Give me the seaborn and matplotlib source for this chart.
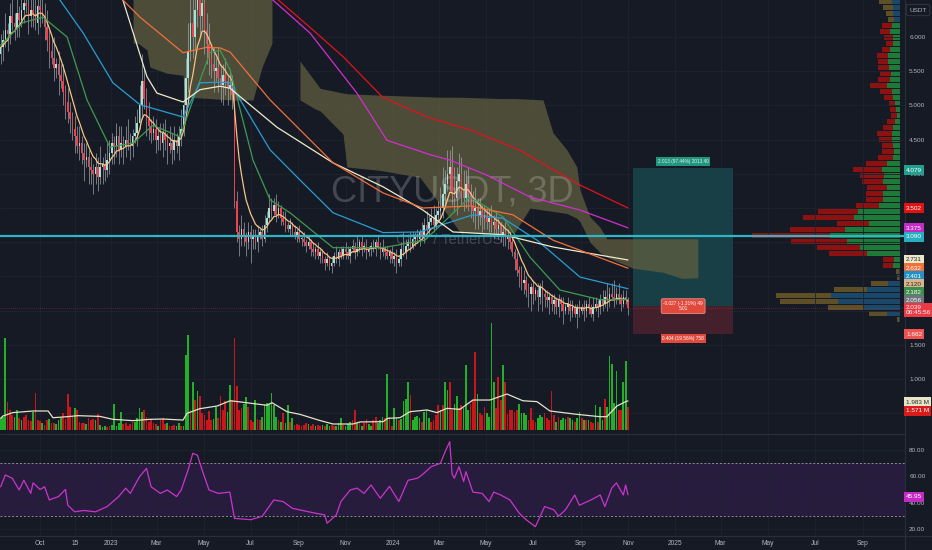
import numpy as np
import pandas as pd
import matplotlib
matplotlib.use("Agg")
import matplotlib.pyplot as plt
from matplotlib.lines import Line2D
import seaborn as sns

# ---------------------------------------------------------------- data
START = "2022-08-11"          # first 3D candle
OPEN0 = 5.75
CLOSE = [
 5.85,5.95,6.10,6.05,6.30,6.20,6.15,6.35,6.25,6.40,
 6.50,6.45,6.30,6.40,6.35,6.20,6.45,6.40,6.30,6.15,
 5.95,5.80,5.70,5.55,5.60,5.45,5.35,5.20,5.05,4.90,
 4.80,4.65,4.55,4.40,4.45,4.30,4.20,4.25,4.10,4.05,
 4.00,4.10,3.95,4.10,4.15,4.05,4.20,4.30,4.45,4.40,
 4.55,4.35,4.45,4.40,4.50,4.45,4.40,4.55,4.60,4.75,
 5.00,5.35,5.10,4.80,4.70,4.60,4.65,4.50,4.55,4.45,
 4.60,4.50,4.40,4.45,4.35,4.50,4.40,4.55,4.65,5.00,
 5.40,5.80,6.20,6.00,6.40,6.60,6.30,6.50,6.10,5.90,
 5.70,5.60,5.50,5.55,5.40,5.30,5.45,5.35,5.25,5.30,
 5.15,3.60,3.15,3.05,3.20,3.10,3.00,3.15,3.05,3.10,
 3.00,3.10,3.15,3.05,3.25,3.35,3.50,3.45,3.55,3.40,
 3.50,3.35,3.30,3.25,3.20,3.25,3.15,3.10,3.15,3.05,
 3.05,3.00,2.95,3.00,2.90,2.85,2.90,2.80,2.85,2.75,
 2.70,2.75,2.65,2.70,2.80,2.75,2.85,2.80,2.90,2.85,
 2.80,2.90,2.95,2.85,2.90,3.00,2.90,2.95,2.85,2.90,
 2.95,2.90,3.00,2.95,2.85,2.90,2.85,2.80,2.85,2.75,
 2.80,2.70,2.75,2.90,2.85,2.95,3.00,2.95,3.05,3.10,
 3.05,3.15,3.10,3.25,3.20,3.30,3.35,3.25,3.40,3.45,
 3.50,3.70,3.85,4.00,4.10,3.70,3.65,3.90,4.00,3.75,
 3.65,3.85,3.70,3.55,3.45,3.50,3.40,3.45,3.35,3.40,
 3.30,3.35,3.25,3.30,3.20,3.25,3.10,3.15,3.05,3.10,
 3.00,2.85,2.75,2.60,2.55,2.40,2.45,2.30,2.25,2.35,
 2.25,2.30,2.20,2.35,2.25,2.20,2.15,2.20,2.10,2.15,
 2.05,2.15,2.10,2.00,2.05,2.10,2.00,2.05,1.95,2.05,
 2.00,2.05,2.00,2.10,2.05,1.95,2.05,2.10,2.05,2.15,
 2.10,2.20,2.15,2.25,2.20,2.15,2.25,2.20,2.10,2.20,
 2.15,2.04]
UP_WICK = [
 .20,.15,.25,.10,.20,.30,.15,.20,.10,.25, .15,.20,.10,.25,.15,.20,.30,.10,.15,.20,
 .25,.15,.20,.30,.10,.20,.15,.25,.10,.20, .15,.10,.20,.15,.25,.10,.15,.20,.10,.15,
 .10,.20,.15,.30,.10,.15,.25,.20,.15,.10, .20,.15,.25,.10,.20,.30,.15,.10,.25,.20,
 .30,.40,.20,.15,.25,.10,.20,.15,.10,.20, .15,.20,.10,.25,.15,.20,.10,.15,.30,.40,
 .30,.40,.35,.50,.30,.45,.40,.30,.35,.25, .30,.20,.25,.15,.30,.20,.15,.25,.10,.20,
 .15,.10,.15,.10,.20,.10,.05,.15,.10,.10, .10,.15,.05,.10,.15,.10,.20,.15,.10,.15,
 .10,.05,.10,.15,.05,.10,.05,.10,.05,.10, .05,.10,.05,.10,.05,.10,.05,.10,.05,.05,
 .05,.10,.05,.10,.05,.15,.05,.10,.05,.10, .10,.05,.10,.05,.20,.05,.10,.05,.10,.05,
 .05,.10,.05,.10,.05,.15,.05,.10,.05,.10, .05,.10,.05,.10,.25,.10,.05,.15,.10,.05,
 .10,.05,.15,.10,.20,.10,.15,.20,.10,.15, .30,.40,.20,.35,.25,.30,.40,.20,.30,.25,
 .30,.20,.25,.15,.20,.30,.15,.20,.10,.15, .10,.15,.20,.10,.15,.10,.05,.10,.15,.10,
 .05,.10,.05,.10,.05,.10,.15,.05,.10,.05, .10,.05,.10,.05,.10,.05,.10,.05,.05,.10,
 .05,.10,.05,.10,.05,.10,.05,.10,.05,.05, .10,.05,.10,.05,.10,.05,.15,.10,.05,.10,
 .15,.10,.20,.10,.15,.25,.10,.15,.05,.10, .10,.05]
DN_WICK = [
 .15,.20,.10,.25,.15,.10,.20,.15,.25,.10, .20,.10,.25,.15,.20,.10,.15,.25,.10,.20,
 .15,.25,.10,.20,.15,.30,.10,.20,.25,.15, .20,.15,.25,.10,.20,.15,.30,.10,.25,.20,
 .30,.15,.20,.10,.25,.15,.10,.20,.15,.25, .15,.20,.10,.25,.15,.10,.20,.15,.10,.20,
 .10,.20,.15,.25,.20,.15,.10,.20,.15,.10, .20,.15,.25,.10,.20,.15,.10,.20,.15,.10,
 .10,.20,.15,.30,.20,.25,.30,.20,.35,.30, .25,.20,.30,.15,.20,.25,.30,.20,.25,.15,
 .20,.10,.15,.25,.10,.15,.20,.10,.35,.15, .10,.15,.05,.10,.05,.10,.05,.10,.05,.10,
 .05,.10,.05,.10,.05,.10,.05,.05,.10,.05, .10,.05,.10,.05,.10,.05,.10,.05,.10,.05,
 .10,.05,.05,.10,.05,.05,.10,.05,.05,.10, .05,.10,.05,.10,.05,.05,.10,.05,.10,.05,
 .10,.05,.10,.05,.10,.05,.10,.05,.10,.05, .10,.15,.05,.10,.05,.10,.05,.10,.05,.10,
 .05,.10,.05,.10,.05,.10,.05,.10,.05,.10, .10,.15,.20,.10,.25,.15,.20,.25,.15,.20,
 .20,.15,.25,.20,.15,.25,.20,.15,.20,.15, .10,.15,.10,.20,.10,.15,.10,.15,.10,.15,
 .10,.05,.15,.10,.20,.10,.15,.10,.20,.25, .15,.10,.20,.10,.25,.15,.10,.20,.10,.15,
 .10,.15,.10,.20,.05,.10,.15,.10,.05,.20, .10,.05,.15,.10,.10,.05,.10,.05,.15,.10,
 .10,.05,.15,.10,.05,.10,.05,.10,.10,.05, .05,.10]
VOLUME = [  # millions
 0.80,0.90,6.30,1.90,1.40,1.00,0.90,1.40,0.80,0.70, 0.90,1.00,0.70,0.60,1.20,2.55,0.70,0.60,0.50,0.35,
 0.70,0.75,0.50,0.45,0.40,0.70,0.80,1.15,0.75,2.45, 1.55,0.90,1.50,1.40,0.55,0.50,0.45,0.40,0.80,0.70,
 0.75,0.70,1.10,0.35,0.20,0.25,0.20,0.25,0.35,1.80, 0.30,0.45,1.25,0.40,0.45,0.30,0.40,0.55,0.55,0.85,
 1.50,1.25,1.40,0.90,0.55,0.70,0.45,0.40,0.30,0.70, 0.80,0.40,0.45,0.30,0.25,0.35,0.30,0.45,0.30,0.25,
 5.10,6.50,1.35,3.30,2.05,2.70,2.30,1.15,1.00,0.70, 1.30,0.70,0.75,1.60,0.85,2.30,1.40,1.95,1.25,3.10,
 2.05,6.30,3.00,1.35,1.50,1.80,2.25,1.55,0.70,0.55, 2.05,0.75,0.70,0.90,1.80,1.85,1.80,2.50,1.70,0.90,
 0.70,0.55,1.15,0.45,1.70,0.55,0.80,0.35,0.40,0.35, 0.30,0.35,0.45,0.40,0.30,0.40,0.30,0.35,0.30,0.35,
 0.30,0.40,0.30,0.35,0.30,0.30,0.45,0.80,0.35,0.30, 0.40,0.55,0.70,1.40,0.45,0.55,0.30,0.45,0.75,0.40,
 0.30,0.70,0.90,0.50,0.70,0.90,0.80,3.80,0.90,0.30, 1.50,0.80,0.70,0.75,1.95,2.15,3.25,2.40,0.70,0.90,
 0.95,0.85,0.55,1.20,1.40,0.85,0.55,0.65,1.00,1.70, 1.35,1.70,3.30,2.75,3.30,1.35,1.80,2.30,1.50,1.70,
 1.50,4.45,1.35,1.80,2.05,5.30,2.45,1.15,1.00,1.60, 1.15,0.90,7.35,3.30,1.50,3.60,2.05,4.45,3.30,1.10,
 1.40,1.35,1.25,1.35,1.80,1.15,1.15,1.00,0.70,1.50, 0.70,0.55,0.80,1.00,0.90,1.15,0.85,0.70,2.70,1.00,
 0.55,0.90,0.70,0.80,0.75,0.90,0.80,0.70,0.55,0.80, 1.20,0.80,0.70,0.70,0.70,0.55,0.45,1.70,0.55,1.55,
 0.70,2.15,1.60,5.05,4.50,1.85,4.05,1.35,1.35,3.25, 4.75,1.57]
VOL_DIR = ("GGGRRRGGRG" "RRRRGRRRGR" "RGRRGGGRRR" "RRGRRRRGRR" "RGRGGGRRGG"
           "GGGRRRRRGG" "GGRRRRRRGR" "RRGRRRGGRG" "GGRGRGRRRR" "RRGGRRRRGG"
           "RRRRRGGRRR" "GRRGGGGGGG" "RGRGGRGRRR" "RRRGRRGRRG" "RGGRRGGGRG"
           "GGRRGRGRRG" "GRRGGGRGRR" "GGRGGGGRGG" "GGRGGGRRRR" "GRGGRRGGRR"
           "GGGRRRGRRR" "GGGGRRRGRR" "RRRRGGGGRR" "RRGGGRRRRR" "GRGGGRGGRG"
           "GRGRGRRGRG" "GRGGGGGRRG" "GR")

# moving averages (candle index, price)
RED_IDX = [116.0, 120.0, 134.0, 148.0, 165.0, 185.0, 203.0, 224.0, 250.0, 271.0]
RED_VAL = [6.69, 6.54, 6.13, 5.71, 5.12, 4.82, 4.64, 4.35, 3.84, 3.50]
MAG_IDX = [114.2, 117.6, 133.6, 153.9, 166.9, 185.5, 194.1, 210.1, 228.7, 250.3, 271.0]
MAG_VAL = [6.69, 6.54, 6.06, 5.18, 4.49, 4.28, 4.20, 3.98, 3.66, 3.47, 3.21]
CREAM_IDX = [50.7, 52.8, 63.2, 67.5, 78.8, 86.1, 94.8, 99.1, 119.4, 143.6, 165.2, 182.4, 195.4, 217.0, 238.6, 271.0]
CREAM_VAL = [6.69, 6.54, 5.42, 5.18, 5.05, 5.23, 5.28, 5.25, 4.68, 4.16, 3.81, 3.47, 3.15, 3.11, 2.93, 2.74]
ORANGE_IDX = [47.2, 52.8, 60.2, 78.8, 89.1, 94.8, 99.1, 116.4, 143.6, 165.2, 182.4, 202.7, 221.3, 238.6, 271.0]
ORANGE_VAL = [6.69, 6.54, 6.29, 5.77, 5.85, 5.84, 5.78, 5.08, 4.16, 3.72, 3.50, 3.53, 3.40, 3.03, 2.62]
BLUE_IDX = [23.5, 25.6, 35.6, 48.5, 60.2, 78.8, 86.1, 94.8, 99.1, 116.4, 129.3, 143.6, 165.2, 181.1, 204.0, 217.0, 231.7, 250.3, 271.0]
BLUE_VAL = [6.69, 6.54, 6.06, 5.33, 5.01, 4.83, 5.33, 5.34, 5.33, 4.35, 3.91, 3.43, 3.14, 3.15, 3.40, 3.35, 3.03, 2.49, 2.32]
GREEN_IDX = [0, 9.6, 18.3, 28.7, 37.3, 47.2, 57.2, 65.8, 77.5, 83.1, 90.4, 94.8, 99.1, 109.0, 116.4, 125.0, 143.6, 165.2, 183.3, 202.7, 217.0, 228.7, 241.6, 258.9, 271.0]
GREEN_VAL = [5.88, 6.21, 6.29, 6.00, 5.08, 4.39, 4.45, 4.71, 4.54, 5.08, 5.77, 5.81, 5.52, 4.20, 3.62, 3.43, 2.92, 2.92, 3.03, 3.66, 3.37, 2.78, 2.30, 2.16, 2.16]

# volume moving average (candle index, millions)
VMA_IDX = [0, 1.0, 5.3, 14.0, 20.5, 22.6, 28.7, 33.4, 42.9, 48.5, 57.2, 64.5, 70.1, 78.8, 80.5, 86.1, 93.5, 99.1, 103.4, 115.0,
           117.2, 123.7, 129.3, 137.9, 143.6, 152.2, 155.2, 165.2, 167.3, 172.5, 176.8, 184.2, 188.5, 192.8, 198.4, 204.0,
           211.4, 218.7, 225.6, 231.7, 237.3, 249.0, 258.9, 261.9, 266.2, 270.6, 271.0]
VMA_VAL = [0.80, 0.96, 1.19, 1.30, 1.30, 0.84, 0.91, 0.98, 0.93, 0.73, 0.64, 0.73, 0.75, 0.68, 1.14, 1.46, 1.64, 2.00, 1.92, 1.69,
           1.87, 1.25, 1.07, 0.65, 0.41, 0.41, 0.55, 0.57, 0.80, 0.84, 1.25, 1.37, 1.19, 1.48, 1.41, 2.05,
           2.05, 2.46, 2.00, 1.94, 1.30, 1.07, 0.91, 0.91, 1.64, 1.98, 1.98]

# RSI (candle index, value)
RSI_IDX = [0, 2, 5, 8, 10, 13, 14, 17, 19, 21, 25, 28, 29, 32, 36, 41, 46, 51, 54, 56, 60, 63, 65, 69, 72, 76, 78, 81, 83, 85,
           87, 90, 94, 99, 101, 108, 113, 118, 122, 126, 133, 140, 141, 145, 147, 151, 154, 157, 160, 164, 168, 172, 176, 180,
           182, 186, 190, 192, 194, 195, 196, 198, 200, 201, 204, 208, 211, 213, 216, 220, 224, 227, 231, 235, 239, 241, 244,
           248, 250, 255, 259, 261, 264, 266, 269, 270, 271]
RSI_VAL = [52, 61, 58.5, 49.6, 57, 47, 55, 50, 52, 42, 44.6, 50, 38, 33, 34, 33, 37, 44.6, 51, 47, 59.7, 66, 52, 47, 49.6, 44.6,
           49.6, 65, 77.5, 76, 65, 49.6, 47, 48, 28, 27, 29.6, 42, 40.8, 35.7, 33, 30.6, 24.3, 30.6, 40.8, 49.6, 51, 47, 53.4,
           43.3, 52.3, 40.8, 57, 58.5, 61, 67.3, 69.9, 78.7, 86.3, 62, 58.5, 67.3, 56, 63.5, 48, 47, 40.8, 48, 45.8, 42, 32, 27,
           21.7, 37, 34.5, 29.6, 34.5, 45.8, 38, 42, 45.8, 37, 51, 55, 45.8, 53.4, 45.95]

# Ichimoku cloud outline (candle index, upper, lower)
CLOUD1_IDX = [57.2, 59.3, 63.2, 64.5, 71.9, 78.8, 79.6, 86.1, 99.1, 109.0, 112.9, 117.2]
CLOUD1_TOP = [6.70] * 12
CLOUD1_BOT = [5.91, 5.91, 5.81, 5.56, 5.47, 5.44, 5.12, 5.11, 5.08, 5.08, 5.56, 5.91]
CLOUD2_IDX = [129.3, 135.8, 138.0, 147.9, 149.6, 163.9, 181.1, 189.8, 198.4, 215.7, 222.2, 228.7, 234.3, 238.6, 244.6,
              248.9, 250.3, 254.6, 258.9, 261.9, 273.2, 286.1, 294.3, 301.2]
CLOUD2_TOP = [5.65, 5.35, 5.25, 5.18, 5.17, 5.15, 5.13, 5.12, 5.12, 5.10, 5.10, 5.09, 5.08, 4.60, 4.35, 4.10, 3.76, 3.37,
              3.22, 3.05, 3.05, 3.05, 3.05, 3.05]
CLOUD2_BOT = [5.08, 4.95, 4.92, 4.58, 4.10, 4.05, 3.95, 3.55, 3.15, 3.10, 3.15, 3.50, 3.47, 3.45, 3.42, 3.35, 3.30, 3.00,
              2.85, 2.78, 2.62, 2.56, 2.47, 2.48]

# visible-range volume profile, rows from the top price level downwards
VP_TOP_PRICE = 6.516
VP_ROW_STEP = 0.0877
VP_UP = [8.3, 7.3, 6.7, 6.0, 8.3, 10.0, 7.3, 7.3, 10.0, 11.7, 11.7, 10.7, 9.3, 10.0, 13.3, 8.3, 6.7, 5.0, 4.0, 3.3,
         5.0, 6.7, 8.3, 8.3, 6.7, 6.0, 6.7, 12.7, 18.3, 15.7, 16.7, 12.7, 16.7, 16.7, 20.7, 41.7, 46.0, 30.7, 55.0, 70.0,
         52.7, 40.0, 33.3, 6.0, 6.7, 1.5, 1.0, 12.3, 32.7, 69.0, 61.7, 37.3, 12.7, 1.5]
VP_DN = [12.3, 9.3, 7.3, 5.7, 10.0, 10.0, 8.7, 6.7, 8.3, 11.0, 10.0, 11.0, 10.7, 11.7, 16.7, 11.7, 9.0, 5.7, 6.0, 6.0,
         7.7, 10.0, 15.0, 12.3, 11.7, 12.3, 15.0, 21.3, 28.3, 24.3, 21.7, 20.7, 17.3, 17.3, 23.3, 40.0, 50.7, 32.0, 55.0, 78.3,
         56.3, 43.3, 38.0, 10.7, 10.0, 2.5, 2.0, 16.7, 33.3, 55.0, 58.3, 34.7, 18.3, 1.5]
VP_IN_VALUE_AREA = [False] * 4 + [True] * 41 + [False] * 9

HLINE_PRICE = 3.09
LAST_PRICE = 2.039
POS_START, POS_END = "2024-11-08", "2025-03-17"
POS_ENTRY, POS_TARGET, POS_STOP = 2.066, 4.079, 1.662
POS_TEXTS = ["2.013 (97.44%) 2013.40", "-0.027 (-1.31%) 49\n5.01", "0.404 (19.56%) 758"]

TICK_DATES = ["2022-10-01", "2022-11-15", "2023-01-01", "2023-03-01", "2023-05-01", "2023-07-01", "2023-09-01",
              "2023-11-01", "2024-01-01", "2024-03-01", "2024-05-01", "2024-07-01", "2024-09-01", "2024-11-01",
              "2025-01-01", "2025-03-01", "2025-05-01", "2025-07-01", "2025-09-01"]
TICK_LABELS = ["Oct", "15", "2023", "Mar", "May", "Jul", "Sep", "Nov", "2024", "Mar", "May", "Jul", "Sep", "Nov",
               "2025", "Mar", "May", "Jul", "Sep"]
PRICE_TICKS = [0.5, 1.0, 1.5, 2.0, 2.5, 3.0, 3.5, 4.0, 4.5, 5.0, 5.5, 6.0]
PRICE_TICK_LABELS = ["", "1.000", "1.500", "", "", "", "", "4.000", "4.500", "5.000", "5.500", "6.000"]
RSI_TICKS = [20, 40, 60, 80]

# right-scale value tags: text, background, foreground
TAGS = [("4.079", "#22a08f", "#ffffff"), ("3.502", "#e01212", "#ffffff"), ("3.375", "#c42bc4", "#ffffff"),
        ("3.090", "#26aebf", "#ffffff"), ("2.731", "#ebe7c9", "#2a2a2a"), ("2.632", "#f2703a", "#ffffff"),
        ("2.401", "#2291c7", "#ffffff"), ("2.120", "#d8b58b", "#2a2a2a"), ("2.182", "#3c8f4c", "#ffffff"),
        ("2.056", "#6f737d", "#ffffff"), ("2.039\n06:45:56", "#ea3a45", "#ffffff"), ("1.662", "#ef5350", "#ffffff"),
        ("1.983 M", "#e8e4c8", "#2a2a2a"), ("1.571 M", "#d81b1b", "#ffffff"), ("45.95", "#c42bc4", "#ffffff")]
TAG_Y_PX = [170, 208, 228, 237, 260, 268, 276, 284, 292, 300, 310, 334, 402, 411, 497]

# ---------------------------------------------------------------- style
sns.set_style("dark")
FONT = ["Liberation Sans Narrow", "Liberation Sans", "DejaVu Sans"]
plt.rcParams["font.family"] = FONT
BG = "#161a25"
GRID = "#1f2330"
TXT = "#b2b5be"
W, H = 932, 550


def rect(x0, y0, x1, y1):
    return [x0 / W, 1 - y1 / H, (x1 - x0) / W, (y1 - y0) / H]


def idx_dates(idx):
    return pd.Timestamp(START) + pd.to_timedelta(np.asarray(idx, float) * 3, unit="D")


T0 = pd.Timestamp("2023-01-01")
PX_DAY = 0.7716
XL = T0 - pd.Timedelta(days=111 / PX_DAY)
XR = T0 + pd.Timedelta(days=(905 - 111) / PX_DAY)
YL, YH = 0.2105, 6.541

fig = plt.figure(figsize=(W / 100, H / 100), dpi=100, facecolor=BG)
ax_vp = fig.add_axes(rect(600, 0, 900, 433), zorder=1)
ax = fig.add_axes(rect(0, 0, 905, 433), zorder=2)
ax_v = fig.add_axes(rect(0, 0, 905, 433), zorder=3, sharex=ax)
ax_r = fig.add_axes(rect(0, 435, 905, 536), zorder=2, sharex=ax)

for a in (ax_vp, ax, ax_v, ax_r):
    a.set_facecolor("none")
    for s in a.spines.values():
        s.set_visible(False)

# ---------------------------------------------------------------- volume profile
levels = VP_TOP_PRICE - VP_ROW_STEP * np.arange(len(VP_UP))
up_c = ["#1d7a39" if f else "#1b4868" for f in VP_IN_VALUE_AREA]
dn_c = ["#8c1111" if f else "#5e4f27" for f in VP_IN_VALUE_AREA]
ax_vp.barh(levels, VP_UP, height=VP_ROW_STEP * 0.85, color=up_c, left=0, edgecolor="none", lw=0)
ax_vp.barh(levels, VP_DN, height=VP_ROW_STEP * 0.85, color=dn_c, left=VP_UP, edgecolor="none", lw=0)
ax_vp.set_xlim(300, 0)
ax_vp.set_ylim(YL, YH)
ax_vp.axis("off")

# ---------------------------------------------------------------- price pane
dates = pd.date_range(START, periods=len(CLOSE), freq="3D")
c = np.array(CLOSE)
o = np.r_[OPEN0, c[:-1]]
hi = np.maximum(o, c) + np.array(UP_WICK)
lo = np.minimum(o, c) - np.array(DN_WICK)
is_up = c >= o

ax.set_xlim(XL, XR)
ax.set_ylim(YL, YH)

# watermark
ax.text(452 / 905, 1 - 192 / 433, "CITYUSDT, 3D", transform=ax.transAxes, ha="center", va="center",
        fontsize=26, color="white", alpha=0.2, family=["Liberation Sans", "DejaVu Sans"], zorder=3)
ax.text(449 / 905, 1 - 240 / 433, "CITY / TetherUS", transform=ax.transAxes, ha="center", va="center",
        fontsize=10.5, color="white", alpha=0.2, family=["Liberation Sans", "DejaVu Sans"], zorder=3)

# long-position tool
ps, pe = pd.Timestamp(POS_START), pd.Timestamp(POS_END)
ax.fill_between([ps, pe], POS_ENTRY, POS_TARGET, color="#173f45", lw=0, zorder=1)
ax.fill_between([ps, pe], POS_STOP, POS_ENTRY, color="#43202b", lw=0, zorder=1)
pm = ps + (pe - ps) / 2
ax.text(pm, POS_TARGET + 0.1, POS_TEXTS[0], ha="center", va="center", fontsize=3.4, color="#e6f2ee", zorder=9,
        bbox=dict(boxstyle="square,pad=0.35", fc="#21967f", ec="none"))
ax.text(pm, POS_ENTRY, POS_TEXTS[1], ha="center", va="center", fontsize=3.4, color="white", zorder=9,
        linespacing=1.1, bbox=dict(boxstyle="round,pad=0.45,rounding_size=0.3", fc="#e2493d", ec="#f3a38f", lw=0.5))
ax.text(pm, POS_STOP - 0.07, POS_TEXTS[2], ha="center", va="center", fontsize=3.4, color="white", zorder=9,
        bbox=dict(boxstyle="square,pad=0.35", fc="#e2493d", ec="none"))

# cloud
CLOUD_C = "#5f5e40"
ax.fill_between(idx_dates(CLOUD1_IDX), CLOUD1_BOT, CLOUD1_TOP, color=CLOUD_C, alpha=0.75, lw=0, zorder=2)
ax.fill_between(idx_dates(CLOUD2_IDX), CLOUD2_BOT, CLOUD2_TOP, color=CLOUD_C, alpha=0.75, lw=0, zorder=2)

# candles
ax.vlines(dates, lo, hi, color="#aeb2ba", lw=0.55, alpha=0.8, zorder=4)
body = np.maximum(np.abs(c - o), 0.012)
ax.bar(dates, body, bottom=np.minimum(o, c), width=2.0,
       color=np.where(is_up, "#a4e3da", "#f0414f"), edgecolor="none", lw=0, zorder=5)

# moving averages
ema = pd.Series(c).ewm(span=8, adjust=False).mean().values
ma_specs = [(dates, ema, "#f6c483"), (idx_dates(GREEN_IDX), GREEN_VAL, "#3f9a52"),
            (idx_dates(BLUE_IDX), BLUE_VAL, "#2a9dd4"), (idx_dates(CREAM_IDX), CREAM_VAL, "#efebca"),
            (idx_dates(ORANGE_IDX), ORANGE_VAL, "#f2703a"), (idx_dates(MAG_IDX), MAG_VAL, "#d22fd0"),
            (idx_dates(RED_IDX), RED_VAL, "#e3121c")]
for xs, ys, col in ma_specs:
    sns.lineplot(x=xs, y=ys, ax=ax, color=col, lw=0.9, legend=False, estimator=None, zorder=6)

ax.axhline(HLINE_PRICE, color="#2fb6c6", lw=1.6, zorder=7)
ax.axhline(LAST_PRICE, color="#f23645", lw=0.5, ls=(0, (1, 2)), alpha=0.6, zorder=3)

ax.set_xticks(pd.to_datetime(TICK_DATES))
ax.yaxis.tick_right()
ax.set_yticks(PRICE_TICKS)
ax.set_yticklabels(PRICE_TICK_LABELS)
ax.tick_params(axis="y", length=0, pad=3, labelsize=4.6, colors=TXT)
ax.tick_params(axis="x", length=0, labelbottom=False)
ax.grid(True, color=GRID, lw=0.6)
ax.set_axisbelow(True)
ax.set_xlabel("")
ax.set_ylabel("")

# ---------------------------------------------------------------- volume overlay
ax_v.bar(dates, VOLUME, width=2.2, color=["#22b02a" if d == "G" else "#c8161a" for d in VOL_DIR],
         edgecolor="none", lw=0, zorder=2)
sns.lineplot(x=idx_dates(VMA_IDX), y=VMA_VAL, ax=ax_v, color="#e6e2c8", lw=0.9, legend=False, estimator=None, zorder=3)
ax_v.set_ylim(-0.205, 29.4)
ax_v.axis("off")

# ---------------------------------------------------------------- RSI pane
ax_r.set_ylim(14.6, 91.4)
ax_r.axhspan(30, 70, color="#281c3e", lw=0, zorder=0)
for lvl in (70, 30):
    ax_r.axhline(lvl, color="#8a8d96", lw=0.7, ls=(0, (2, 2)), zorder=1)
sns.lineplot(x=idx_dates(RSI_IDX), y=RSI_VAL, ax=ax_r, color="#c935cc", lw=0.9, legend=False, estimator=None, zorder=3)
ax_r.yaxis.tick_right()
ax_r.set_yticks(RSI_TICKS)
ax_r.set_yticklabels([f"{t:.2f}" for t in RSI_TICKS])
ax_r.set_xticks(pd.to_datetime(TICK_DATES))
ax_r.set_xticklabels(TICK_LABELS)
ax_r.tick_params(axis="y", length=0, pad=3, labelsize=4.6, colors=TXT)
ax_r.tick_params(axis="x", length=0, pad=3.2, labelsize=4.8, colors=TXT)
ax_r.grid(True, color=GRID, lw=0.6)
ax_r.set_axisbelow(True)
ax_r.set_xlim(XL, XR)
ax_r.set_xlabel("")
ax_r.set_ylabel("")

# ---------------------------------------------------------------- frame lines & tags
for (x0, y0, x1, y1) in [(0, 434, 905, 434), (905, 0, 905, 550), (0, 536, 932, 536)]:
    fig.add_artist(Line2D([x0 / W, x1 / W], [1 - y0 / H, 1 - y1 / H], color="#2a2e39", lw=0.8))

fig.text(918 / W, 1 - 10 / H, "USDT", ha="center", va="center", fontsize=4.6, color=TXT,
         bbox=dict(boxstyle="round,pad=0.5,rounding_size=0.3", fc=BG, ec="#363a45", lw=0.6))
for (txt, bg, fg), ypx in zip(TAGS, TAG_Y_PX):
    fig.text(906 / W, 1 - ypx / H, txt, ha="left", va="center", fontsize=4.6, color=fg, linespacing=1.0,
             bbox=dict(boxstyle="square,pad=0.35", fc=bg, ec="none"))

fig.savefig("out.png", dpi=100, facecolor=BG)
